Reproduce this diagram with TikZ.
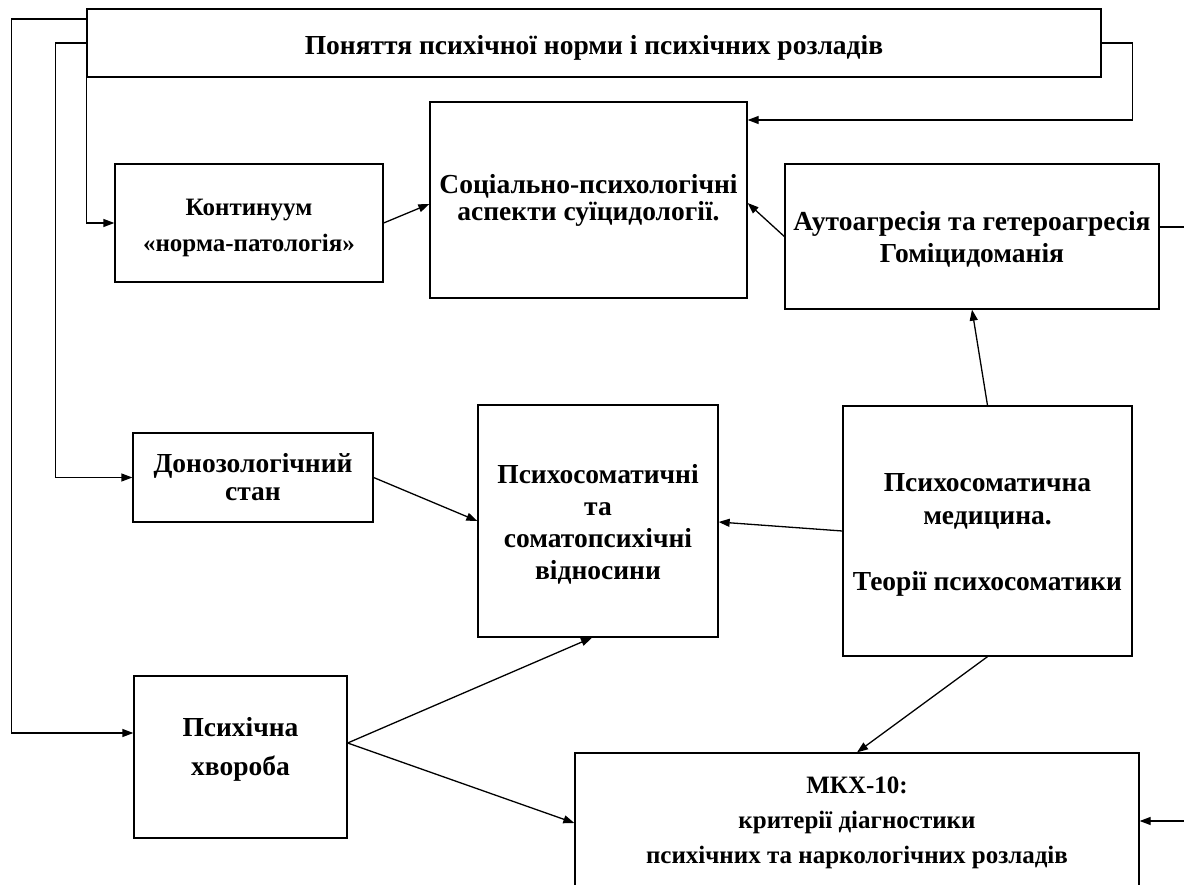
\documentclass[tikz,border=0pt]{standalone}
\usepackage{fontspec}
\setmainfont{Liberation Serif}
\usetikzlibrary{arrows.meta}
\newcommand{\lowertext}[2]{\raisebox{-#1}[\height][\depth]{#2}}
\begin{document}
\begin{tikzpicture}[x=1pt,y=-1pt,
  box/.style={draw,line width=1.3pt,align=center,inner sep=0pt,
    font=\fontsize{27.5}{32}\selectfont\bfseries},
  smallbox/.style={box,font=\fontsize{25}{35}\selectfont\bfseries},
  arr/.style={line width=1.3pt,-{Triangle[length=11pt,width=8pt]}},
  ln/.style={line width=1.3pt}]
\clip (0,0) rectangle (1184,885);
\node[box,minimum width=1014pt,minimum height=68pt] (top) at (594,43) {\lowertext{5pt}{Поняття психічної норми і психічних розладів}};
\node[smallbox,minimum width=268pt,minimum height=118pt,font=\fontsize{25}{36}\selectfont\bfseries] (kont) at (249,223) {\lowertext{5pt}{Континуум}\\\lowertext{5pt}{«норма-патологія»}};
\node[box,minimum width=317pt,minimum height=196pt,font=\fontsize{27.5}{27}\selectfont\bfseries] (soc) at (588.5,200) {Соціально-психологічні\\аспекти суїцидології.};
\node[box,minimum width=374pt,minimum height=145pt] (aggr) at (972,236.5) {\lowertext{3pt}{Аутоагресія та гетероагресія}\\\lowertext{3pt}{Гоміцидоманія}};
\node[box,minimum width=240pt,minimum height=89pt,font=\fontsize{27.5}{28}\selectfont\bfseries] (donoz) at (253,477.5) {Донозологічний\\стан};
\node[box,minimum width=240pt,minimum height=232pt] (rel) at (598,521) {\lowertext{3pt}{Психосоматичні}\\\lowertext{3pt}{та}\\\lowertext{3pt}{соматопсихічні}\\\lowertext{3pt}{відносини}};
\node[box,minimum width=289pt,minimum height=250pt,font=\fontsize{27.5}{33}\selectfont\bfseries] (med) at (987.5,531) {\lowertext{4pt}{Психосоматична}\\\lowertext{4pt}{медицина.}\\[33pt]\lowertext{4pt}{Теорії психосоматики}};
\node[box,minimum width=213pt,minimum height=162pt] (psykh) at (240.5,757) {Психічна\\[7pt]хвороба\\[-10pt]};
\node[smallbox,minimum width=564pt,minimum height=140pt] (mkx) at (857,823) {МКХ-10:\\критерії діагностики\\психічних та наркологічних розладів};
\coordinate (redge1) at (1184,227);
\coordinate (redge2) at (1184,821);
% connectors from top box
\draw[arr] (top.west |- 0,19) -- ++(-75,0) |- (psykh.west |- 0,733);
\draw[arr] (top.west) -- ++(-31,0) |- (donoz.west);
\draw[arr] (top.south west) |- (kont.west);
\draw[arr] (top.east) -- ++(31,0) |- (soc.east |- 0,120);
% other connectors
\draw[arr] (kont.east) -- (soc.west |- 0,204);
\draw[arr] (aggr.west) -- (soc.east |- 0,203);
\draw[arr] (med.north) -- (aggr.south);
\draw[arr] (donoz.east) -- (rel.west);
\draw[arr] (med.west) -- (rel.east |- 0,522);
\draw[arr] (psykh.east |- 0,743) -- (rel.south -| 592,0);
\draw[arr] (psykh.east |- 0,743) -- (mkx.west);
\draw[arr] (med.south) -- (mkx.north);
\draw[ln] (aggr.east |- redge1) -- (redge1);
\draw[arr] (redge2) -- (mkx.east |- redge2);
\end{tikzpicture}
\end{document}
